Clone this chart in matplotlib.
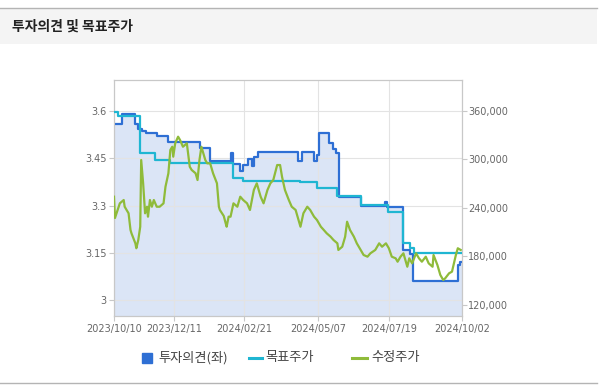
import matplotlib
matplotlib.use('Agg')
import matplotlib.pyplot as plt
import matplotlib.dates as mdates
from matplotlib.lines import Line2D
from matplotlib.patches import Rectangle
from matplotlib.ticker import FuncFormatter
import pandas as pd

plt.rcParams['font.family'] = ['Noto Sans CJK KR', 'DejaVu Sans']

title = '투자의견 및 목표주가'
legend_labels = ['투자의견(좌)', '목표주가', '수정주가']

x_tick_dates = ['2023-10-10', '2023-12-11', '2024-02-21', '2024-05-07', '2024-07-19', '2024-10-02']
left_ticks = [3.0, 3.15, 3.3, 3.45, 3.6]
left_tick_labels = ['3', '3.15', '3.3', '3.45', '3.6']
right_ticks = [120000, 180000, 240000, 300000, 360000]

# 투자의견 (left axis, step line)
opinion_dates = ['2023-10-10', '2023-10-18', '2023-11-01', '2023-11-04', '2023-11-08', '2023-11-12',
                 '2023-11-23', '2023-12-05', '2024-01-07', '2024-01-17', '2024-02-07', '2024-02-10',
                 '2024-02-17', '2024-02-20', '2024-02-25', '2024-02-29', '2024-03-02', '2024-03-06',
                 '2024-04-16', '2024-04-21', '2024-05-03', '2024-05-06', '2024-05-08', '2024-05-18',
                 '2024-05-23', '2024-05-26', '2024-05-29', '2024-06-20', '2024-07-15', '2024-07-17',
                 '2024-08-03', '2024-08-10', '2024-08-13', '2024-09-28', '2024-09-30', '2024-10-02']
opinion_values = [3.560, 3.591, 3.558, 3.544, 3.537, 3.530,
                  3.521, 3.503, 3.484, 3.440, 3.468, 3.433,
                  3.411, 3.430, 3.448, 3.425, 3.455, 3.471,
                  3.442, 3.471, 3.442, 3.460, 3.531, 3.500,
                  3.480, 3.468, 3.328, 3.300, 3.310, 3.295,
                  3.158, 3.148, 3.060, 3.111, 3.120, 3.120]

# 목표주가 (right axis, step line)
target_dates = ['2023-10-10', '2023-10-14', '2023-11-06', '2023-11-21', '2023-12-07', '2024-02-10',
                '2024-02-20', '2024-04-19', '2024-05-06', '2024-05-27', '2024-06-20', '2024-07-18',
                '2024-08-03', '2024-08-10', '2024-08-14', '2024-10-02']
target_values = [358800, 353500, 307400, 299100, 295000, 276500,
                 273300, 272300, 264000, 254700, 243500, 235300,
                 196200, 190000, 184600, 184600]

# 수정주가 (right axis)
price_dates = ['2023-10-10', '2023-10-11', '2023-10-16', '2023-10-20', '2023-10-21', '2023-10-25',
               '2023-10-27', '2023-10-28', '2023-11-01', '2023-11-02', '2023-11-04', '2023-11-06',
               '2023-11-07', '2023-11-09', '2023-11-11', '2023-11-13', '2023-11-14', '2023-11-16',
               '2023-11-18', '2023-11-20', '2023-11-23', '2023-11-26', '2023-11-30', '2023-12-02',
               '2023-12-05', '2023-12-07', '2023-12-09', '2023-12-10', '2023-12-12', '2023-12-15',
               '2023-12-17', '2023-12-20', '2023-12-24', '2023-12-27', '2023-12-29', '2024-01-02',
               '2024-01-04', '2024-01-06', '2024-01-08', '2024-01-12', '2024-01-14', '2024-01-17',
               '2024-01-20', '2024-01-24', '2024-01-26', '2024-01-27', '2024-01-31', '2024-02-02',
               '2024-02-03', '2024-02-05', '2024-02-07', '2024-02-10', '2024-02-14', '2024-02-17',
               '2024-02-20', '2024-02-24', '2024-02-27', '2024-03-02', '2024-03-05', '2024-03-09',
               '2024-03-12', '2024-03-16', '2024-03-19', '2024-03-22', '2024-03-26', '2024-03-29',
               '2024-03-31', '2024-04-03', '2024-04-07', '2024-04-10', '2024-04-14', '2024-04-17',
               '2024-04-19', '2024-04-22', '2024-04-26', '2024-04-29', '2024-05-03', '2024-05-06',
               '2024-05-10', '2024-05-13', '2024-05-16', '2024-05-20', '2024-05-23', '2024-05-27',
               '2024-05-28', '2024-06-01', '2024-06-04', '2024-06-06', '2024-06-09', '2024-06-13',
               '2024-06-16', '2024-06-20', '2024-06-23', '2024-06-27', '2024-06-30', '2024-07-05',
               '2024-07-09', '2024-07-12', '2024-07-16', '2024-07-19', '2024-07-22', '2024-07-26',
               '2024-07-28', '2024-07-31', '2024-08-03', '2024-08-07', '2024-08-09', '2024-08-12',
               '2024-08-16', '2024-08-19', '2024-08-22', '2024-08-26', '2024-08-29', '2024-09-02',
               '2024-09-03', '2024-09-07', '2024-09-10', '2024-09-13', '2024-09-15', '2024-09-19',
               '2024-09-22', '2024-09-26', '2024-09-28', '2024-10-01']
price_values = [253800, 227500, 245600, 249700, 241400, 233300,
                212700, 208600, 196200, 190100, 200300, 216700,
                299100, 270300, 233300, 241400, 229100, 249700,
                241400, 249700, 241400, 241400, 245600, 266100,
                282700, 311500, 315500, 303200, 319700, 327900,
                323800, 315500, 319700, 290800, 286800, 282700,
                274400, 299100, 315500, 299100, 295000, 295000,
                282700, 270300, 241400, 237400, 230000, 220900,
                216700, 229100, 229100, 245600, 241400, 253800,
                249700, 245600, 237400, 262100, 270300, 253800,
                245600, 262100, 270300, 274400, 292900, 292900,
                278500, 262100, 249700, 241400, 237400, 225000,
                216700, 233300, 241400, 237400, 229100, 225000,
                216700, 212700, 208600, 204400, 200300, 196200,
                188000, 192000, 204400, 222900, 212700, 204400,
                196200, 188000, 181800, 179700, 183900, 188000,
                196200, 192000, 196200, 190100, 179700, 177700,
                173500, 179700, 183900, 167300, 177700, 171500,
                183900, 177700, 173500, 179700, 171500, 167300,
                181800, 169400, 157100, 150900, 153000, 159200,
                161200, 181800, 190100, 188000]

W, H = 611, 386
fig = plt.figure(figsize=(W / 100, H / 100), dpi=100, facecolor='white')

# header band
fig.patches.append(Rectangle((0, 1 - 44 / H), 597 / W, 36 / H, transform=fig.transFigure,
                             facecolor='#f4f4f4', edgecolor='none', zorder=0))
fig.add_artist(Line2D([0, 597 / W], [1 - 7.5 / H] * 2, color='#b4b4b4', lw=1.0))
fig.add_artist(Line2D([0, 597 / W], [1 - 383 / H] * 2, color='#b4b4b4', lw=1.0))
fig.text(12 / W, 1 - 27 / H, title, fontsize=10, fontweight='bold', color='#222222',
         va='center', ha='left')

left, right, top, bottom = 114, 461.7, 79.5, 316
ax = fig.add_axes([left / W, 1 - bottom / H, (right - left) / W, (bottom - top) / H])
ax.set_facecolor('white')

od = pd.to_datetime(opinion_dates)
td = pd.to_datetime(target_dates)
pdts = pd.to_datetime(price_dates)

ax.set_ylim(2.95, 3.70)
ax.fill_between(od, opinion_values, 2.95, step='post', color='#dbe5f6', lw=0, zorder=1)
ax.step(od, opinion_values, where='post', color='#2e6fd4', lw=1.6, zorder=3)

ax.set_xlim(pd.Timestamp('2023-10-10'), pd.Timestamp('2024-10-02'))
ax.set_xticks(pd.to_datetime(x_tick_dates))
ax.xaxis.set_major_formatter(mdates.DateFormatter('%Y/%m/%d'))
ax.set_yticks(left_ticks)
ax.set_yticklabels(left_tick_labels)
ax.grid(True, color='#e3e3e3', lw=0.8)
ax.set_axisbelow('line')

for s in ax.spines.values():
    s.set_color('#c8c8c8')
    s.set_linewidth(0.8)
ax.tick_params(axis='both', colors='#c8c8c8', labelcolor='#666666', labelsize=7,
               length=3.5, width=0.8, pad=2)
for lbl in ax.get_xticklabels() + ax.get_yticklabels():
    lbl.set_family('DejaVu Sans')

ax2 = ax.twinx()
ax2.set_ylim(106455, 398533)
ax2.step(td, target_values, where='post', color='#1fb6d2', lw=1.6, zorder=3)
ax2.plot(pdts, price_values, color='#8fbb3a', lw=1.6, zorder=4)
ax2.set_yticks(right_ticks)
ax2.yaxis.set_major_formatter(FuncFormatter(lambda v, p: f'{int(v):,}'))
for s in ax2.spines.values():
    s.set_color('#c8c8c8')
    s.set_linewidth(0.8)
ax2.tick_params(axis='y', colors='#c8c8c8', labelcolor='#666666', labelsize=7,
                length=3.5, width=0.8, pad=1)
for lbl in ax2.get_yticklabels():
    lbl.set_family('DejaVu Sans')

# legend
ly = 1 - 357.5 / H
fig.add_artist(Line2D([146.5 / W], [ly], marker='s', markersize=6.5, color='#2e6fd4', lw=0))
fig.text(158 / W, ly, legend_labels[0], fontsize=9.5, color='#444444', va='center', ha='left')
fig.add_artist(Line2D([249 / W, 262 / W], [ly, ly], color='#1fb6d2', lw=2.2))
fig.text(265 / W, ly, legend_labels[1], fontsize=9.5, color='#444444', va='center', ha='left')
fig.add_artist(Line2D([352 / W, 367 / W], [ly, ly], color='#8fbb3a', lw=2.2))
fig.text(371 / W, ly, legend_labels[2], fontsize=9.5, color='#444444', va='center', ha='left')

fig.savefig('out.png', dpi=100, facecolor=fig.get_facecolor())
